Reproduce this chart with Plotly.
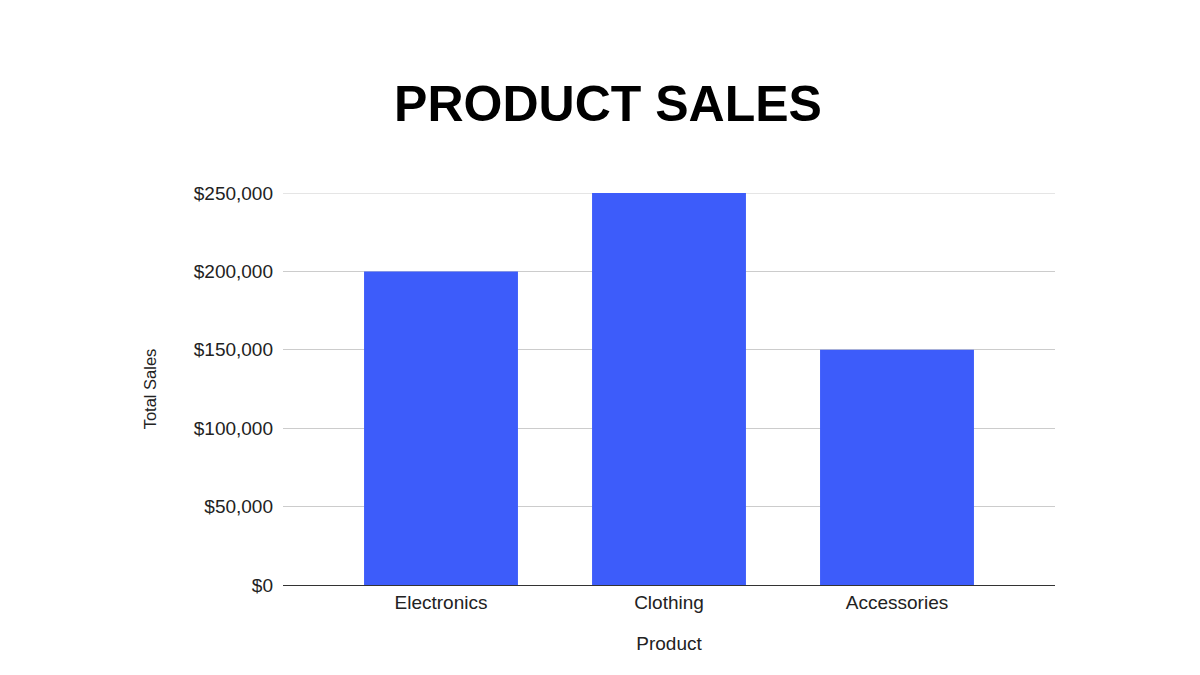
import plotly.graph_objects as go

products = ["Electronics", "Clothing", "Accessories"]
sales = [200000, 250000, 150000]
tick_vals = [0, 50000, 100000, 150000, 200000, 250000]
tick_text = ["$0", "$50,000", "$100,000", "$150,000", "$200,000", "$250,000"]

fig = go.Figure(go.Bar(x=products, y=sales, marker=dict(color="#3D5CFA", line=dict(width=0))))

fig.update_layout(
    width=1200, height=675,
    paper_bgcolor="white", plot_bgcolor="white",
    margin=dict(l=275, r=153, t=185, b=98),
    bargap=0.325,
    font=dict(family="Liberation Sans, Arial, sans-serif", color="#222222"),
    title=dict(text="<b>PRODUCT SALES</b>", x=0.5, xanchor="center", y=0.859, yanchor="middle",
               font=dict(size=50, color="#000000", family="Liberation Sans, Arial, sans-serif")),
    showlegend=False,
)
# top gridline at the highest tick (Plotly hides gridlines lying on the range edge)
fig.add_shape(type="line", xref="paper", x0=0, x1=1, yref="y", y0=tick_vals[-1], y1=tick_vals[-1],
              line=dict(color="#cccccc", width=1), layer="below")
fig.update_xaxes(
    range=[-0.693, len(products) - 1 + 0.693],
    showgrid=False, showline=True, linecolor="#333333", linewidth=1,
    tickfont=dict(size=19, color="#222222"), ticks="",
    title=dict(text="Product", font=dict(size=19, color="#222222"), standoff=24),
)
fig.update_yaxes(
    range=[0, 250000], tickvals=tick_vals, ticktext=tick_text,
    showgrid=True, gridcolor="#cccccc", gridwidth=1, zeroline=False,
    tickfont=dict(size=19, color="#222222"), ticks="", ticklabelstandoff=9,
    title=dict(text="Total Sales", font=dict(size=16.5, color="#222222"), standoff=32),
)
fig.write_html("out.html")
